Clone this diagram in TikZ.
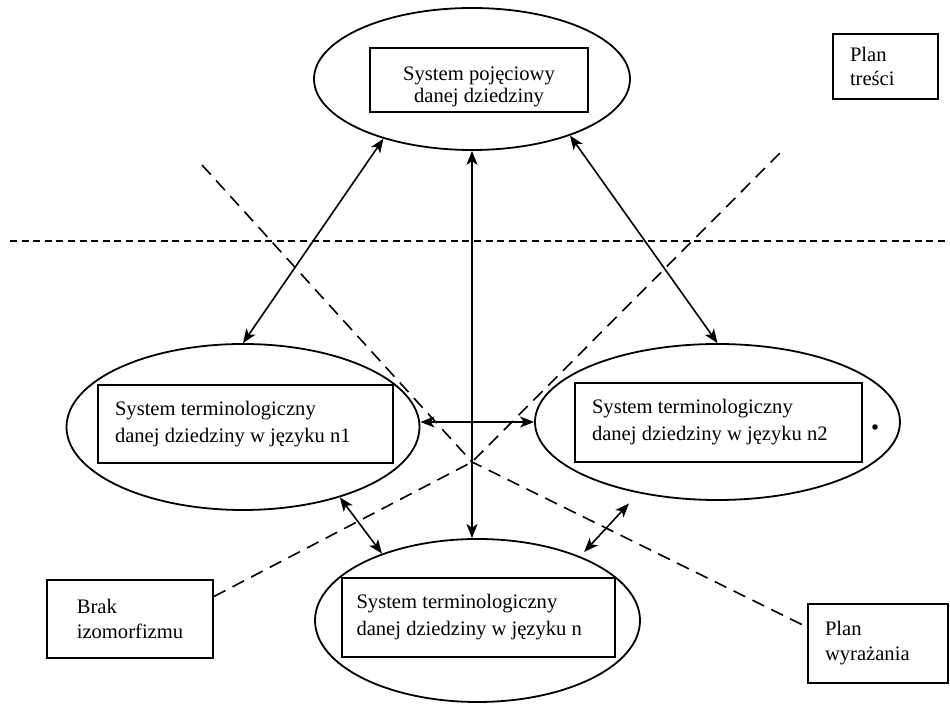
\documentclass[tikz,border=0pt]{standalone}
\usepackage{fontspec}
\setmainfont{Liberation Serif}
\usetikzlibrary{shapes.geometric,arrows.meta}

\begin{document}
\begin{tikzpicture}[x=0.5pt, y=-0.5pt, line width=0.9pt,
    syscirc/.style={ellipse, draw, inner sep=0pt},
    sysbox/.style={draw, align=left, inner xsep=8.5pt, font=\fontsize{10.3}{13.5}\selectfont,
      execute at begin node={\spaceskip=0.25em\relax}},
    notebox/.style={draw, align=left, inner xsep=8.5pt, font=\fontsize{10.3}{12}\selectfont,
      execute at begin node={\spaceskip=0.25em\relax}},
    link/.style={{Stealth[length=7pt,width=5.5pt,inset=1.8pt]}-{Stealth[length=7pt,width=5.5pt,inset=1.8pt]}, line width=0.8pt},
    cut/.style={dash pattern=on 6.5pt off 4pt, line width=0.8pt},
    level/.style={dash pattern=on 3.5pt off 2.3pt, line width=0.8pt}]
  \useasboundingbox (0,0) rectangle (950,705);

  % ellipses
  \node[syscirc, minimum width=158pt, minimum height=71pt] (top) at (472,79) {};
  \node[syscirc, minimum width=176.5pt, minimum height=83pt] (n1) at (243,427) {};
  \node[syscirc, minimum width=182.5pt, minimum height=78pt] (n2) at (717.5,422) {};
  \node[syscirc, minimum width=162.5pt, minimum height=81.5pt] (n) at (477.5,620.5) {};

  % boxes
  \node[sysbox, align=center, minimum width=109pt, inner ysep=0pt,
        text height=27.5pt, text depth=4.5pt, font=\fontsize{10.3}{11}\selectfont] (topbox) at (479,80)
        {System pojęciowy\\danej dziedziny};
  \node[sysbox, text width=130.5pt, minimum height=39pt] (n1box) at (245.5,424)
        {System terminologiczny\\danej dziedziny w języku n1};
  \node[sysbox, text width=126.5pt, minimum height=39.5pt] (n2box) at (718.5,422.5)
        {System terminologiczny\\danej dziedziny w języku n2};
  \node[sysbox, text width=122pt, inner xsep=7.25pt, minimum height=39.5pt] (nbox) at (478.5,617.5)
        {System terminologiczny\\danej dziedziny w języku n};
  \node[circle, fill, inner sep=0pt, minimum size=2.8pt] (mark) at (875,427) {};

  \node[notebox, text width=35.5pt, minimum height=32.5pt] (content) at (885.5,66.5) {Plan\\treści};
  \node[notebox, minimum width=83pt, minimum height=39pt,
        font=\fontsize{10.3}{12.5}\selectfont] (noiso) at (130,619) {Brak\\izomorfizmu};
  \node[notebox, text width=53pt, minimum height=39.5pt,
        font=\fontsize{10.3}{12.5}\selectfont] (expr) at (878,643.5) {Plan\\wyrażania};

  % arrows
  \draw[link] (top.214) -- (n1.north);
  \draw[link] (top.330) -- (n2.north);
  \draw[link] (top.south) -- (top.south |- n.north);
  \draw[link] (n1.east |- n2.west) -- (n2.west);
  \draw[link] (n1.324) -- (n.145);
  \draw[link, shorten <=7pt, shorten >=3pt] (n2.222) -- (n.32);

  % dashed lines
  \coordinate (cutA) at (202,165);
  \coordinate (cutB) at (783,150);
  \coordinate (cross) at (472,462);
  \coordinate (lvlW) at (10,241);
  \coordinate (lvlE) at (946,241);
  \draw[cut] (cutA) -- (cross) -- (expr.167);
  \draw[cut] (noiso.15) -- (cross) -- (cutB);
  \draw[level] (lvlW) -- (lvlE);
\end{tikzpicture}
\end{document}
